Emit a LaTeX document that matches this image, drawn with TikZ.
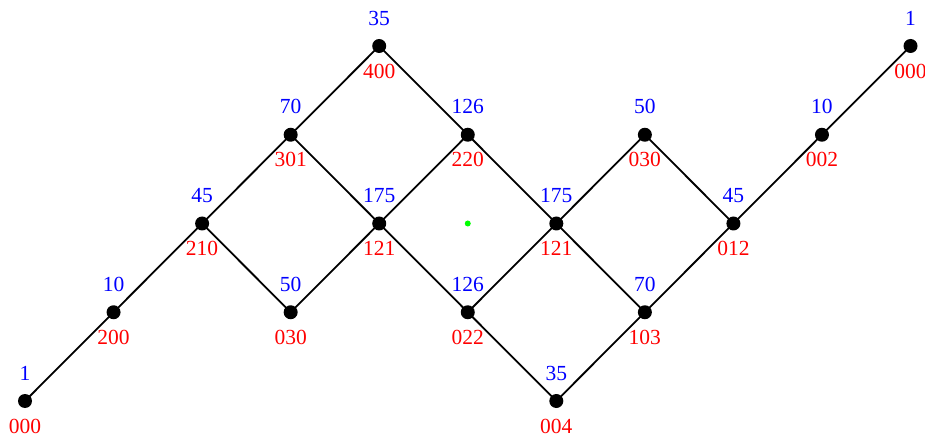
\documentclass[tikz,border=0pt]{standalone}
\usepackage{fontspec}
\setmainfont{Liberation Serif}
\begin{document}
\begin{tikzpicture}[x=1pt,y=-1pt,
  dot/.style={circle,fill=black,minimum size=14pt,inner sep=0pt},
  bl/.style={text=blue,inner sep=0pt,font=\fontsize{21.5}{24}\selectfont},
  rd/.style={text=red,inner sep=0pt,font=\fontsize{21.5}{24}\selectfont},
  edge/.style={line width=1.8pt}]
\useasboundingbox (0,0) rectangle (925,435);
\newcommand\vtx[5]{%
  \node[dot] (#1) at ({25+88.55*#2},{46+88.75*#3}) {};
  \node[bl] (#1b) at ([yshift=28pt]#1.center) {#4};
  \node[rd] (#1r) at ([yshift=-25pt]#1.center) {#5};}
\vtx{a}{0}{4}{1}{000}
\vtx{b}{1}{3}{10}{200}
\vtx{c}{2}{2}{45}{210}
\vtx{d}{3}{1}{70}{301}
\vtx{e}{4}{0}{35}{400}
\vtx{f}{3}{3}{50}{030}
\vtx{g}{4}{2}{175}{121}
\vtx{h}{5}{1}{126}{220}
\vtx{i}{5}{3}{126}{022}
\vtx{j}{6}{2}{175}{121}
\vtx{k}{6}{4}{35}{004}
\vtx{l}{7}{1}{50}{030}
\vtx{m}{7}{3}{70}{103}
\vtx{n}{8}{2}{45}{012}
\vtx{o}{9}{1}{10}{002}
\vtx{p}{10}{0}{1}{000}
\node[circle,fill=green,minimum size=6pt,inner sep=0pt] (z) at (467.75,223.5) {};
\draw[edge] (a.center) -- (b.center) -- (c.center) -- (d.center) -- (e.center);
\draw[edge] (c.center) -- (f.center) -- (g.center) -- (h.center) -- (e.center);
\draw[edge] (d.center) -- (g.center) -- (i.center) -- (k.center) -- (m.center) -- (n.center);
\draw[edge] (h.center) -- (j.center) -- (m.center);
\draw[edge] (i.center) -- (j.center) -- (l.center) -- (n.center) -- (o.center) -- (p.center);
\end{tikzpicture}
\end{document}
